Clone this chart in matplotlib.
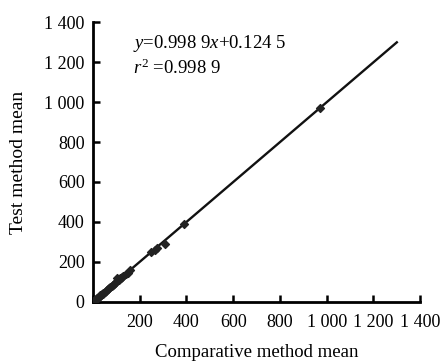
import matplotlib
matplotlib.use("Agg")
import matplotlib.pyplot as plt
import numpy as np

plt.rcParams['font.family'] = ['Liberation Serif', 'DejaVu Serif']
plt.rcParams['mathtext.fontset'] = 'custom'
plt.rcParams['mathtext.rm'] = 'Liberation Serif'
plt.rcParams['mathtext.it'] = 'Liberation Serif:italic'

# comparative method mean vs test method mean
comp = [5, 8, 12, 15, 18, 22, 25, 28, 32, 35, 38, 42, 45, 50, 55, 60, 65, 70, 75,
        80, 85, 90, 95, 100, 105, 110, 115, 120, 125, 130, 140, 150, 160,
        250, 265, 275, 310, 390, 970]
test = [6, 8, 13, 14, 19, 21, 26, 27, 33, 34, 39, 41, 46, 49, 56, 59, 66, 69, 76,
        81, 84, 91, 94, 101, 118, 108, 122, 118, 124, 128, 138, 146, 158,
        248, 262, 270, 290, 392, 972]

slope, intercept = 0.9989, 0.1245
line_x = np.array([0, 1300])

ticks = [0, 200, 400, 600, 800, 1000, 1200, 1400]
tick_labels = ['0', '200', '400', '600', '800', '1 000', '1 200', '1 400']
xtick_labels = ['', '200', '400', '600', '800', '1 000', '1 200', '1 400']

fig = plt.figure(figsize=(4.4, 3.62), dpi=100)
ax = fig.add_axes([0.211, 0.166, 0.744, 0.773])

ax.scatter(comp, test, marker='D', s=16, color='#222222', zorder=3)
ax.plot(line_x, slope * line_x + intercept, color='#111111', lw=1.7)

ax.set_xlim(0, 1400)
ax.set_ylim(0, 1400)
ax.set_xticks(ticks)
ax.set_xticklabels(xtick_labels)
ax.set_yticks(ticks)
ax.set_yticklabels(tick_labels)
ax.tick_params(direction='in', length=5, width=1.8, labelsize=13)
ax.tick_params(axis='x', pad=9)
ax.tick_params(axis='y', pad=6)

for s in ['top', 'right']:
    ax.spines[s].set_visible(False)
for s in ['left', 'bottom']:
    ax.spines[s].set_linewidth(2)

ax.set_xlabel('Comparative method mean', fontsize=13.5, labelpad=9)
ax.set_ylabel('Test method mean', fontsize=14, labelpad=12)

ax.text(170, 1270, '$y$=0.998 9$x$+0.124 5', fontsize=13.5)
ax.text(170, 1140, '$r^2$ =0.998 9', fontsize=13.5)

fig.savefig('out.png', dpi=100)
